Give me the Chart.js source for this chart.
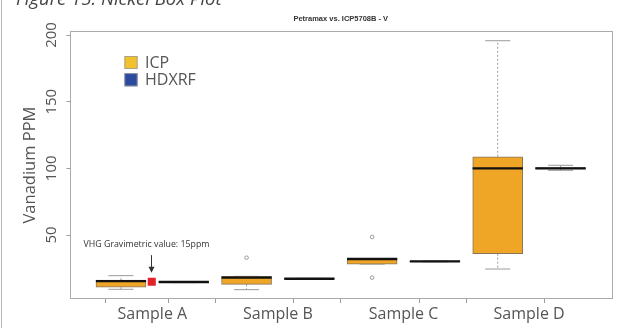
<!DOCTYPE html>
<html>
<head>
<meta charset="utf-8">
<script src="https://cdn.jsdelivr.net/npm/chart.js@4.4.1/dist/chart.umd.min.js"></script>
<style>
  html, body { margin: 0; padding: 0; background: #fff; }
  canvas { display: block; }
</style>
</head>
<body>
<canvas id="chart" width="621" height="328"></canvas>
<script>
// Vanadium results per sample: five-number summaries for each method
const categories = ['Sample A', 'Sample B', 'Sample C', 'Sample D'];
const seriesNames = ['ICP', 'HDXRF'];

const icpMin    = [9.3, 9.0, 28.2, 24.5];
const icpQ1     = [10.8, 13.0, 28.2, 36.0];
const icpMedian = [15.4, 18.0, 32.0, 100.0];
const icpQ3     = [16.1, 19.0, 32.2, 108.7];
const icpMax    = [19.5, 19.0, 32.2, 195.7];
const icpOutliers = [[], [33.0], [48.5, 18.0], []];

const hdxrfMin    = [14.3, 16.9, 29.9, 98.5];
const hdxrfQ1     = [14.5, 17.0, 30.0, 99.6];
const hdxrfMedian = [14.7, 17.2, 30.2, 100.0];
const hdxrfQ3     = [14.9, 17.4, 30.4, 100.6];
const hdxrfMax    = [15.1, 17.5, 30.5, 102.3];
const hdxrfOutliers = [[], [], [], []];

const yTicks = [50, 100, 150, 200];

const gravimetricValue = 15;
const gravimetricLabel = 'VHG Gravimetric value: 15ppm';

// ---- styling ----
const FONT = '"Open Sans", sans-serif';
const TEXT = '#555';
const ICP_FILL = '#EFA526';
const HDXRF_FILL = '#2F4C9C';
const LEGEND_FILL = ['#F2C12E', '#2D4B9E'];
const BOX_EDGE = '#85775f';
const WHISKER = '#9a9a9a';
const BOX_HALF = 0.4;   // half box width in axis units
const CAP_HALF = 0.2;   // half staple width in axis units

// each sample gets two slots on the x axis: ICP then HDXRF
const icpPos = categories.map((_, i) => 2 * i + 1);
const hdxrfPos = categories.map((_, i) => 2 * i + 2);
const labelPos = categories.map((_, i) => 2 * i + 1.5);
const gravimetricAt = 1.49;

function boxes(pos, q1, q3) {
  return pos.map((p, i) => ({ x: p, y: [q1[i], q3[i]] }));
}
function medians(pos, med) {
  const out = [];
  pos.forEach((p, i) => {
    out.push({ x: p - BOX_HALF, y: med[i] }, { x: p + BOX_HALF, y: med[i] }, { x: p, y: null });
  });
  return out;
}
function whiskers(pos, mn, q1, q3, mx) {
  const out = [];
  pos.forEach((p, i) => {
    out.push({ x: p, y: q3[i] }, { x: p, y: mx[i] }, { x: p, y: null });
    out.push({ x: p, y: q1[i] }, { x: p, y: mn[i] }, { x: p, y: null });
  });
  return out;
}
function staples(pos, mn, mx) {
  const out = [];
  pos.forEach((p, i) => {
    out.push({ x: p - CAP_HALF, y: mx[i] }, { x: p + CAP_HALF, y: mx[i] }, { x: p, y: null });
    out.push({ x: p - CAP_HALF, y: mn[i] }, { x: p + CAP_HALF, y: mn[i] }, { x: p, y: null });
  });
  return out;
}
function outlierPoints(pos, outl) {
  const out = [];
  pos.forEach((p, i) => outl[i].forEach(v => out.push({ x: p, y: v })));
  return out;
}

const lineBase = { type: 'line', pointRadius: 0, fill: false, spanGaps: false, tension: 0 };

const datasets = [
  { ...lineBase, label: 'ICP median', data: medians(icpPos, icpMedian), borderColor: '#111', borderWidth: 2.4, order: 0 },
  { ...lineBase, label: 'HDXRF median', data: medians(hdxrfPos, hdxrfMedian), borderColor: '#111', borderWidth: 2.4, order: 0 },
  { type: 'scatter', label: 'Gravimetric', data: [{ x: gravimetricAt, y: gravimetricValue }],
    pointStyle: 'rect', pointRadius: 5.7, backgroundColor: '#E3212A', borderWidth: 0, order: 0 },
  { type: 'scatter', label: 'Outliers',
    data: outlierPoints(icpPos, icpOutliers).concat(outlierPoints(hdxrfPos, hdxrfOutliers)),
    pointRadius: 1.8, borderWidth: 1, borderColor: '#9a9a9a', backgroundColor: 'rgba(255,255,255,0)', order: 1 },
  { type: 'bar', label: seriesNames[0], data: boxes(icpPos, icpQ1, icpQ3), backgroundColor: ICP_FILL,
    borderColor: BOX_EDGE, borderWidth: 1, borderSkipped: false, barThickness: 50, grouped: false, order: 2 },
  { type: 'bar', label: seriesNames[1], data: boxes(hdxrfPos, hdxrfQ1, hdxrfQ3), backgroundColor: HDXRF_FILL,
    borderColor: '#555', borderWidth: 1, borderSkipped: false, barThickness: 50, grouped: false, order: 2 },
  { ...lineBase, label: 'Whiskers',
    data: whiskers(icpPos, icpMin, icpQ1, icpQ3, icpMax).concat(whiskers(hdxrfPos, hdxrfMin, hdxrfQ1, hdxrfQ3, hdxrfMax)),
    borderColor: WHISKER, borderWidth: 1, borderDash: [2, 2], order: 3 },
  { ...lineBase, label: 'Staples',
    data: staples(icpPos, icpMin, icpMax).concat(staples(hdxrfPos, hdxrfMin, hdxrfMax)),
    borderColor: WHISKER, borderWidth: 1, order: 3 }
];

// frame, legend, annotation arrow and page decorations
const decor = {
  id: 'decor',
  beforeDatasetsDraw(chart) {
    const { ctx, chartArea: a } = chart;
    ctx.save();
    ctx.strokeStyle = '#aaaaaa';
    ctx.lineWidth = 1;
    ctx.strokeRect(Math.round(a.left) + 0.5, Math.round(a.top) + 0.5,
      Math.round(a.right - a.left) - 1, Math.round(a.bottom - a.top) - 1);
    ctx.restore();
  },
  afterDatasetsDraw(chart) {
    const { ctx, chartArea: a, scales: { x, y } } = chart;
    ctx.save();
    // legend
    ctx.font = '16px ' + FONT;
    ctx.textBaseline = 'middle';
    ctx.textAlign = 'left';
    seriesNames.forEach((name, i) => {
      const left = a.left + 55, top = a.top + 25 + i * 17.3;
      ctx.fillStyle = LEGEND_FILL[i];
      ctx.fillRect(left, top, 13, 13);
      ctx.strokeStyle = '#9a9a9a';
      ctx.lineWidth = 0.8;
      ctx.strokeRect(left + 0.4, top + 0.4, 12.2, 12.2);
      ctx.fillStyle = TEXT;
      ctx.fillText(name, left + 20.5, top + 7);
    });
    // gravimetric reference arrow
    const ax = Math.round(x.getPixelForValue(gravimetricAt) - 1) + 0.5;
    const py = y.getPixelForValue(gravimetricValue);
    const tip = py - 9;
    ctx.strokeStyle = '#333';
    ctx.lineWidth = 1;
    ctx.beginPath();
    ctx.moveTo(ax, py - 26.5);
    ctx.lineTo(ax, tip - 5);
    ctx.stroke();
    ctx.fillStyle = '#333';
    ctx.beginPath();
    ctx.moveTo(ax - 3, tip - 6);
    ctx.lineTo(ax + 3, tip - 6);
    ctx.lineTo(ax, tip);
    ctx.closePath();
    ctx.fill();
    ctx.font = '8.8px ' + FONT;
    ctx.fillStyle = '#333';
    ctx.textAlign = 'center';
    ctx.fillText(gravimetricLabel, ax - 5, py - 37.5);
    ctx.restore();
  },
  afterDraw(chart) {
    const { ctx, height } = chart;
    ctx.save();
    ctx.fillStyle = '#b8b8b8';
    ctx.fillRect(1, 0, 1, height);
    ctx.font = 'italic 18.5px ' + FONT;
    ctx.fillStyle = '#444';
    ctx.textAlign = 'left';
    ctx.textBaseline = 'alphabetic';
    ctx.fillText('Figure 15: Nickel Box Plot', 16, 5);
    ctx.restore();
  }
};

Chart.defaults.font.family = FONT;

new Chart(document.getElementById('chart'), {
  type: 'bar',
  data: { datasets },
  options: {
    responsive: false,
    animation: false,
    events: [],
    layout: { padding: { left: 10, right: 9, top: 0, bottom: 0 } },
    plugins: {
      legend: { display: false },
      tooltip: { enabled: false },
      title: {
        display: true,
        text: 'Petramax vs. ICP5708B - V',
        fullSize: false,
        color: '#333',
        font: { family: '"Liberation Sans", Arial, sans-serif', size: 7.5, weight: 'bold', lineHeight: 1.2 },
        padding: { top: 14.5, bottom: 7.5 }
      }
    },
    scales: {
      x: {
        type: 'linear',
        min: 0.18,
        max: 8.82,
        offset: false,
        afterBuildTicks(scale) {
          const vals = icpPos.concat(hdxrfPos, labelPos).sort((p, q) => p - q);
          scale.ticks = vals.map(v => ({ value: v }));
        },
        afterFit(scale) { scale.height = 29; },
        border: { display: false },
        grid: {
          drawOnChartArea: false,
          drawTicks: true,
          tickLength: 4,
          tickWidth: 1,
          tickColor: ctx => (ctx.tick && Number.isInteger(ctx.tick.value)) ? '#9a9a9a' : 'rgba(0,0,0,0)'
        },
        ticks: {
          autoSkip: false,
          minRotation: 0,
          maxRotation: 0,
          padding: 1.5,
          color: TEXT,
          font: { size: 16 },
          callback(value) {
            const i = labelPos.indexOf(value);
            return i >= 0 ? categories[i] : '';
          }
        }
      },
      y: {
        type: 'linear',
        min: 2,
        max: 203,
        afterBuildTicks(scale) { scale.ticks = yTicks.map(v => ({ value: v })); },
        afterFit(scale) { scale.width = 59.5; },
        border: { display: false },
        grid: { drawOnChartArea: false, tickLength: 3, tickColor: '#9a9a9a' },
        ticks: {
          minRotation: 90,
          maxRotation: 90,
          crossAlign: 'center',
          padding: 1.6,
          color: TEXT,
          font: { size: 15 },
          callback: v => String(v)
        },
        title: {
          display: true,
          text: 'Vanadium PPM',
          color: TEXT,
          font: { size: 16.5 },
          padding: { top: 10, bottom: 0 }
        }
      }
    }
  },
  plugins: [decor]
});
</script>
</body>
</html>
